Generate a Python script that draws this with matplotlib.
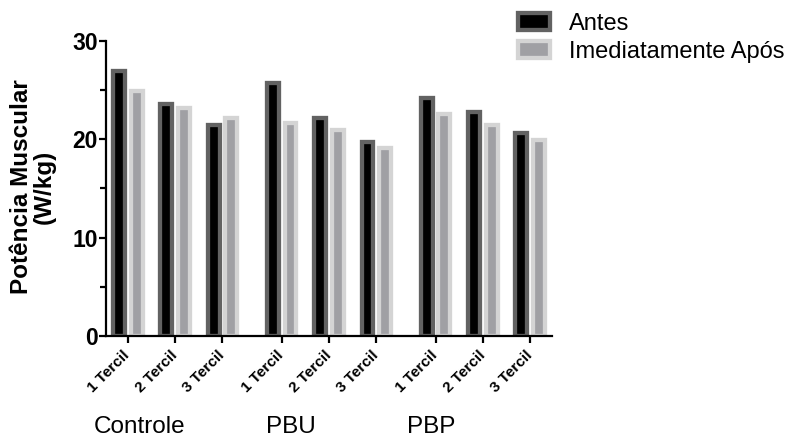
import matplotlib.pyplot as plt
from matplotlib.ticker import MultipleLocator
from matplotlib.transforms import ScaledTranslation
import numpy as np

plt.rcParams['font.family'] = ['Liberation Sans', 'DejaVu Sans']

# Data
groups = ['Controle', 'PBU', 'PBP']
terciles = ['1 Tercil', '2 Tercil', '3 Tercil']
series = ['Antes', 'Imediatamente Após']
antes = [26.9, 23.6, 21.5, 25.7, 22.2, 19.7, 24.2, 22.8, 20.6]
apos = [24.9, 23.2, 22.2, 21.7, 20.9, 19.1, 22.6, 21.5, 19.9]

# x positions: 3 terciles per group, small extra gap between groups
x = np.array([g * 3.25 + i for g in range(len(groups)) for i in range(len(terciles))])
tick_labels = terciles * len(groups)

fig = plt.figure(figsize=(7.91, 4.37), dpi=100)
ax = fig.add_axes([106 / 791, 1 - 336 / 437, 446 / 791, 295 / 437])

w = 0.25
off = 0.187
lw = 3.1
b1 = ax.bar(x - off, antes, width=w, color='black', edgecolor='#626262', linewidth=lw, label=series[0])
b2 = ax.bar(x + off, apos, width=w, color='#a0a0a4', edgecolor='#d4d4d4', linewidth=lw, label=series[1])

ax.set_xlim(-0.46, 8.96)
ax.set_ylim(0, 30)
ax.yaxis.set_major_locator(MultipleLocator(10))
ax.yaxis.set_minor_locator(MultipleLocator(5))

ax.set_xticks(x)
ax.set_xticklabels(tick_labels, rotation=45, ha='right', va='center',
                   rotation_mode='anchor', fontsize=11, fontweight='bold')
shift = ScaledTranslation(4 / 100, 0, fig.dpi_scale_trans)
for lab in ax.get_xticklabels():
    lab.set_transform(lab.get_transform() + shift)
for lab in ax.get_yticklabels():
    lab.set_fontweight('bold')
ax.tick_params(axis='y', which='major', labelsize=16.5, length=5, width=1.6, pad=1)
ax.tick_params(axis='y', which='minor', length=4, width=1.6)
ax.tick_params(axis='x', length=5, width=1.6, pad=7)

for s in ['top', 'right']:
    ax.spines[s].set_visible(False)
for s in ['left', 'bottom']:
    ax.spines[s].set_linewidth(1.6)

fig.text(33 / 791, 1 - 187 / 437, 'Potência Muscular\n(W/kg)', rotation=90,
         ha='center', va='center', fontsize=17.5, fontweight='bold',
         multialignment='center', linespacing=1.0)

group_x = [140, 291, 431]
for gx, name in zip(group_x, groups):
    fig.text(gx / 791, 1 - 427 / 437, name, ha='center', va='center', fontsize=17.5)

fig.legend(handles=[b1, b2], loc='upper left', bbox_to_anchor=(518 / 791, 1 - 13 / 437),
           frameon=False, fontsize=17, handlelength=1.36, handleheight=0.72,
           handletextpad=0.8, labelspacing=0.25, borderpad=0, borderaxespad=0)

fig.savefig('out.png', dpi=100)
